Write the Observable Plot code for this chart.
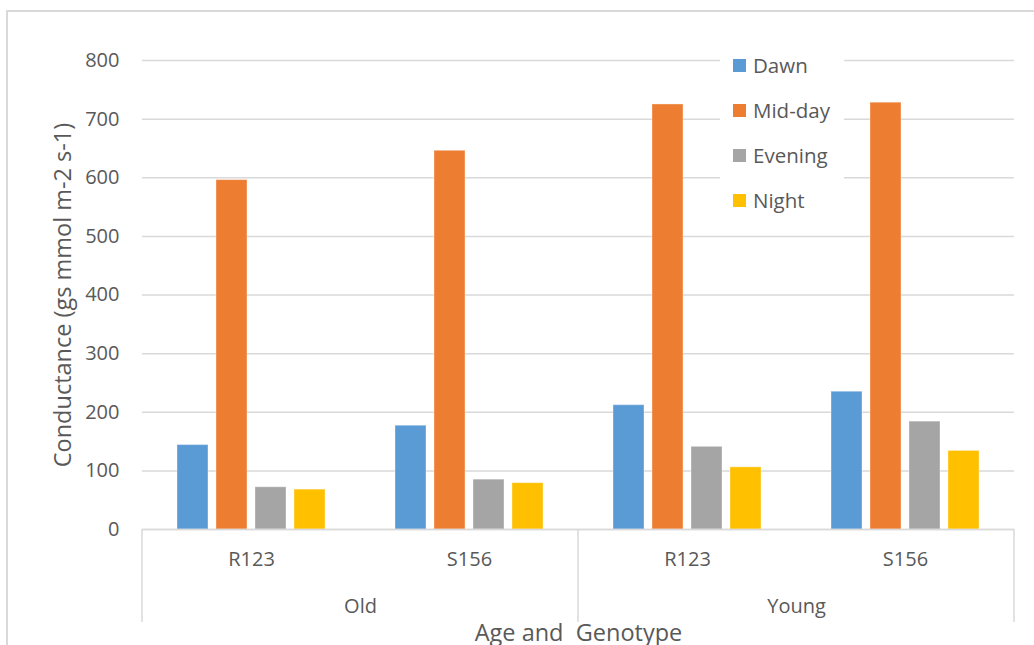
<!DOCTYPE html>
<html>
<head>
<meta charset="utf-8">
<script src="https://cdn.jsdelivr.net/npm/d3@7"></script>
<script src="https://cdn.jsdelivr.net/npm/@observablehq/plot@0.6"></script>
<style>
  body { margin: 0; background: #fff; }
  #chart { position: relative; width: 1034px; height: 645px; overflow: hidden; font-family: "Open Sans", sans-serif; color: #595959; }
  #chart svg { position: absolute; left: 0; top: 0; }
  #border { position: absolute; left: 6px; top: 10px; right: -20px; bottom: -20px; border: 2px solid #d9d9d9; }
  #legend { position: absolute; left: 720px; top: 42px; width: 124px; height: 178px; background: #fff; }
  .item { position: absolute; left: 0; height: 30px; line-height: 30px; font-size: 20.5px; white-space: nowrap; }
  .swatch { position: absolute; left: 13px; top: 9px; width: 13px; height: 13px; }
  .label { position: absolute; left: 33px; top: 0; }
</style>
</head>
<body>
<div id="chart"><div id="border"></div></div>
<script>
// Stomatal conductance by age class, genotype and time of day
const ages = ["Old", "Old", "Young", "Young"];
const genotypes = ["R123", "S156", "R123", "S156"];
const times = ["Dawn", "Mid-day", "Evening", "Night"];
const dawn = [144, 177, 212, 235];
const midday = [596, 646, 725, 728];
const evening = [72, 85, 141, 184];
const night = [68, 79, 106, 134];
const yTicks = [0, 100, 200, 300, 400, 500, 600, 700, 800];
const colors = ["#5b9bd5", "#ed7d31", "#a5a5a5", "#ffc000"];
const yTitle = "Conductance (gs mmol m-2 s-1)";
const xTitle = "Age and  Genotype";

const keys = ages.map((a, i) => `${a} ${genotypes[i]}`);
const series = [dawn, midday, evening, night];
const rows = [];
keys.forEach((k, g) => times.forEach((t, s) => rows.push({key: k, time: t, value: series[s][g]})));
const groups = keys.map((k, i) => ({key: k, genotype: genotypes[i]}));
// the age label sits on the boundary between its two genotype groups
const ageLabels = keys.map((k, i) => ({key: k, age: ages[i]})).filter((d, i) => i % 2 === 1);

const plot = Plot.plot({
  width: 1034,
  height: 645,
  marginLeft: 141,
  marginRight: 19,
  marginTop: 60,
  marginBottom: 116,
  style: {fontFamily: "'Open Sans', sans-serif", fontSize: "20px", color: "#595959", background: "transparent", overflow: "visible"},
  fx: {domain: keys, padding: 0, axis: null},
  x: {domain: times, paddingInner: 0.215, paddingOuter: 0.88, axis: null},
  y: {domain: [0, 800], axis: null},
  color: {domain: times, range: colors},
  marks: [
    Plot.gridY(yTicks, {stroke: "#d9d9d9", strokeOpacity: 1, strokeWidth: 1.5}),
    Plot.axisY(yTicks, {tickSize: 0, tickPadding: 23, label: null, fill: "#595959"}),
    Plot.barY(rows, {fx: "key", x: "time", y: "value", fill: "time", stroke: "#ffffff", strokeOpacity: 0.35, strokeWidth: 1}),
    Plot.ruleY([0], {stroke: "#d9d9d9", strokeWidth: 1.5}),
    Plot.text(groups, {fx: "key", text: "genotype", frameAnchor: "bottom", dy: 30, lineAnchor: "middle", fill: "#595959"}),
    Plot.text(ageLabels, {fx: "key", text: "age", frameAnchor: "bottom-left", textAnchor: "middle", dy: 77, lineAnchor: "middle", fill: "#595959"}),
    Plot.text([xTitle], {facet: "super", text: d => d, frameAnchor: "bottom", dy: 104, lineAnchor: "middle", fontSize: 23.5, fill: "#595959"}),
    Plot.text([yTitle], {facet: "super", text: d => d, frameAnchor: "left", textAnchor: "middle", rotate: -90, dx: -79, lineAnchor: "middle", fontSize: 23.5, fill: "#595959"})
  ]
});

document.getElementById("chart").appendChild(plot);

// vertical separators of the two-level category axis
const fx = plot.scale("fx");
const y = plot.scale("y");
const y0 = y.apply(0);
const edges = [fx.apply(keys[0]), fx.apply(keys[2]), fx.apply(keys[3]) + fx.bandwidth];
d3.select(plot).append("g")
  .selectAll("line").data(edges).join("line")
  .attr("x1", d => d).attr("x2", d => d)
  .attr("y1", y0).attr("y2", y0 + 93)
  .attr("stroke", "#d9d9d9").attr("stroke-width", 1.5);

// legend
const legend = d3.select("#chart").append("div").attr("id", "legend");
const items = legend.selectAll(".item").data(times).join("div")
  .attr("class", "item")
  .style("top", (d, i) => `${8 + 45 * i}px`);
items.append("div").attr("class", "swatch").style("background", (d, i) => colors[i]);
items.append("div").attr("class", "label").text(d => d);
</script>
</body>
</html>
